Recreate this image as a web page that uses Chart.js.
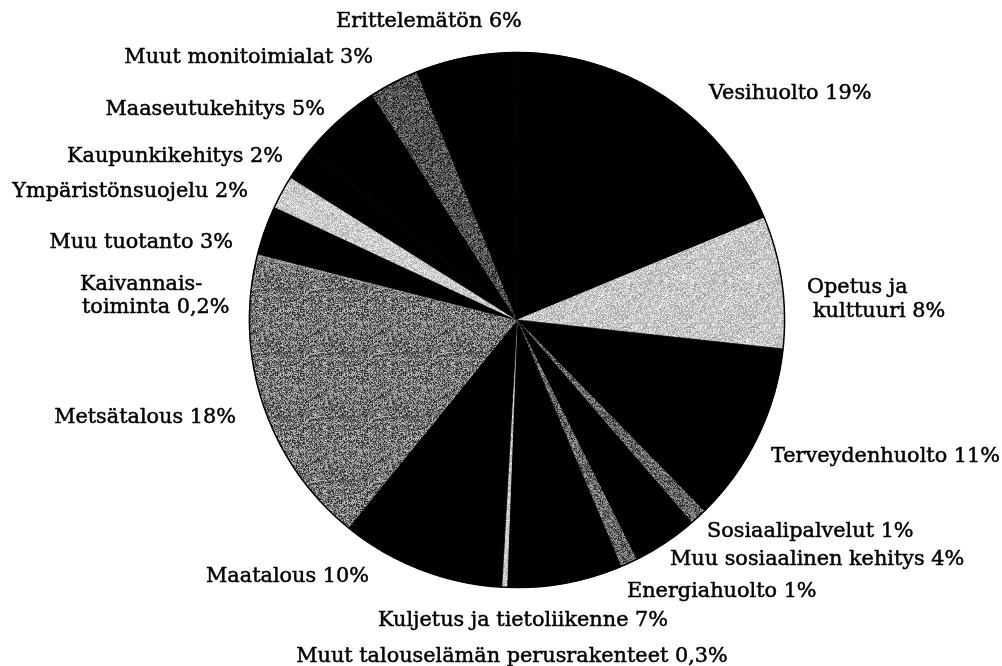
<!DOCTYPE html>
<html>
<head>
<meta charset="utf-8">
<script src="https://cdn.jsdelivr.net/npm/chart.js@4/dist/chart.umd.min.js"></script>
<style>
  body { margin: 0; background: #fff; }
  canvas { display: block; }
</style>
</head>
<body>
<canvas id="pie" width="1002" height="666"></canvas>
<script>
// osuudet myötäpäivään, alkaen ylhäältä (Vesihuolto)
const categories = [
  "Vesihuolto", "Opetus ja kulttuuri", "Terveydenhuolto", "Sosiaalipalvelut",
  "Muu sosiaalinen kehitys", "Energiahuolto", "Kuljetus ja tietoliikenne",
  "Muut talouselämän perusrakenteet", "Maatalous", "Metsätalous",
  "Kaivannaistoiminta", "Muu tuotanto", "Ympäristönsuojelu", "Kaupunkikehitys",
  "Maaseutukehitys", "Muut monitoimialat", "Erittelemätön"
];
const shares = [19, 8, 11, 1, 4, 1, 7, 0.3, 10, 18, 0.2, 3, 2, 2, 5, 3, 6];

// tekstit sellaisenaan (osa kahdella rivillä)
const labelLines = [
  ["Vesihuolto 19%"],
  ["Opetus ja", "kulttuuri 8%"],
  ["Terveydenhuolto 11%"],
  ["Sosiaalipalvelut 1%"],
  ["Muu sosiaalinen kehitys 4%"],
  ["Energiahuolto 1%"],
  ["Kuljetus ja tietoliikenne 7%"],
  ["Muut talouselämän perusrakenteet 0,3%"],
  ["Maatalous 10%"],
  ["Metsätalous 18%"],
  ["Kaivannais-", "toiminta 0,2%"],
  ["Muu tuotanto 3%"],
  ["Ympäristönsuojelu 2%"],
  ["Kaupunkikehitys 2%"],
  ["Maaseutukehitys 5%"],
  ["Muut monitoimialat 3%"],
  ["Erittelemätön 6%"]
];

// tekstien paikat kankaalla: [x, baseline y, tasaus] rivikohtaisesti
const labelPos = [
  [[709, 99, "left"]],
  [[807, 293, "left"], [813, 317, "left"]],
  [[771, 462, "left"]],
  [[707, 537, "left"]],
  [[670, 565, "left"]],
  [[627, 597, "left"]],
  [[523, 626, "center"]],
  [[512, 662, "center"]],
  [[369, 582, "right"]],
  [[236, 423, "right"]],
  [[80, 290, "left"], [82, 313, "left"]],
  [[233, 248, "right"]],
  [[248, 197, "right"]],
  [[283, 162, "right"]],
  [[325, 115, "right"]],
  [[373, 63, "right"]],
  [[429, 27, "center"]]
];

// rasteripinnat harmaille sektoreille
function texture(mean, spread, seed) {
  const c = document.createElement("canvas");
  c.width = 64; c.height = 64;
  const g = c.getContext("2d");
  const img = g.createImageData(64, 64);
  let s = seed;
  for (let i = 0; i < 64 * 64; i++) {
    s = (s * 1103515245 + 12345) & 0x7fffffff;
    const v = Math.max(0, Math.min(255, mean + ((s >> 8) % 256 - 128) / 128 * spread));
    img.data[i * 4] = v; img.data[i * 4 + 1] = v; img.data[i * 4 + 2] = v; img.data[i * 4 + 3] = 255;
  }
  g.putImageData(img, 0, 0);
  return g.createPattern(c, "repeat");
}

const black = "#000";
const fills = [
  black, texture(200, 45, 7), black, texture(100, 70, 11),
  black, texture(105, 70, 13), black, texture(205, 40, 17),
  black, texture(115, 85, 19), texture(140, 60, 23), black,
  texture(205, 40, 29), black, black, texture(80, 65, 31), black
];

const labelPlugin = {
  id: "labels",
  afterDraw(chart) {
    const ctx = chart.ctx;
    const arc = chart.getDatasetMeta(0).data[0];
    ctx.save();
    ctx.beginPath();
    ctx.arc(arc.x, arc.y, arc.outerRadius, 0, Math.PI * 2);
    ctx.lineWidth = 1.5;
    ctx.strokeStyle = "#000";
    ctx.stroke();
    ctx.fillStyle = "#000";
    ctx.font = "20.8px 'DejaVu Serif'";
    ctx.textBaseline = "alphabetic";
    ctx.lineWidth = 0.5;
    labelLines.forEach((lines, i) => {
      lines.forEach((t, j) => {
        const p = labelPos[i][j];
        ctx.textAlign = p[2];
        ctx.fillText(t, p[0], p[1]);
        ctx.strokeText(t, p[0], p[1]);
      });
    });
    ctx.restore();
  }
};

new Chart(document.getElementById("pie"), {
  type: "pie",
  data: {
    labels: categories,
    datasets: [{
      data: shares,
      backgroundColor: fills,
      borderColor: fills,
      borderWidth: 0.8
    }]
  },
  options: {
    responsive: false,
    animation: false,
    rotation: -0.5,
    layout: { padding: { left: 249, right: 217, top: 52, bottom: 78 } },
    plugins: {
      legend: { display: false },
      tooltip: { enabled: false }
    }
  },
  plugins: [labelPlugin]
});
</script>
</body>
</html>
